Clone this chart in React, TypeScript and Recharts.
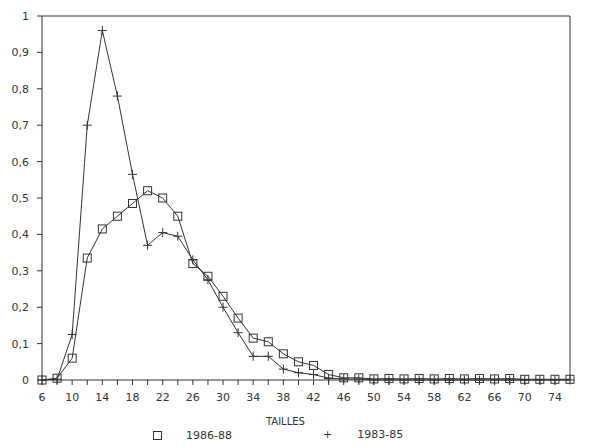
import { LineChart, Line, XAxis, YAxis, ReferenceLine } from 'recharts';

// tailles (x) and the two frequency series
const tailles = [6, 8, 10, 12, 14, 16, 18, 20, 22, 24, 26, 28, 30, 32, 34, 36, 38, 40, 42, 44, 46, 48, 50, 52, 54, 56, 58, 60, 62, 64, 66, 68, 70, 72, 74, 76];
const serie8688 = [0, 0.005, 0.06, 0.335, 0.415, 0.45, 0.485, 0.52, 0.5, 0.45, 0.32, 0.285, 0.23, 0.17, 0.115, 0.105, 0.072, 0.05, 0.04, 0.015, 0.006, 0.006, 0.003, 0.004, 0.003, 0.004, 0.003, 0.004, 0.003, 0.004, 0.003, 0.004, 0.002, 0.002, 0.002, 0.002];
const serie8385 = [0, 0.002, 0.125, 0.7, 0.96, 0.78, 0.565, 0.37, 0.405, 0.395, 0.33, 0.275, 0.2, 0.13, 0.065, 0.065, 0.03, 0.02, 0.015, 0.005, 0.003, 0.003, 0, 0, 0, 0, 0, 0, 0, 0, 0, 0, 0, 0, 0, 0];

const xTicks = [6, 8, 10, 12, 14, 16, 18, 20, 22, 24, 26, 28, 30, 32, 34, 36, 38, 40, 42, 44, 46, 48, 50, 52, 54, 56, 58, 60, 62, 64, 66, 68, 70, 72, 74];
const xLabels = [6, 10, 14, 18, 22, 26, 30, 34, 38, 42, 46, 50, 54, 58, 62, 66, 70, 74];
const yTicks = [0, 0.1, 0.2, 0.3, 0.4, 0.5, 0.6, 0.7, 0.8, 0.9, 1];

const data = tailles.map((t, i) => ({ t, a: serie8688[i], b: serie8385[i] }));

const INK = '#333';
const FONT = '"DejaVu Sans", sans-serif';

const SquareDot = (props: any) => {
    const { cx, cy, index } = props;
    return <rect key={'s' + index} x={cx - 4} y={cy - 4} width={8} height={8} fill="none" stroke={INK} strokeWidth={1} />;
};

const PlusDot = (props: any) => {
    const { cx, cy, index } = props;
    return <path key={'p' + index} d={`M${cx - 4.5},${cy}h9M${cx},${cy - 4.5}v9`} stroke={INK} strokeWidth={1} fill="none" />;
};

const XTick = (props: any) => {
    const { x, y, payload } = props;
    if (!xLabels.includes(payload.value)) return <g />;
    return (
        <text x={x} y={y + 14} textAnchor="middle" fill={INK} fontSize={11} fontFamily={FONT}>
            {payload.value}
        </text>
    );
};

export default function App() {
    return (
        <div style={{ position: 'absolute', left: 0, top: 0, width: 600, height: 448, background: '#fff' }}>
            <LineChart width={600} height={448} data={data} margin={{ top: 16, right: 30, left: 0, bottom: 38 }}>
                <XAxis
                    dataKey="t"
                    type="number"
                    domain={[6, 76]}
                    ticks={xTicks}
                    interval={0}
                    height={30}
                    stroke={INK}
                    tickSize={5}
                    tick={<XTick />}
                />
                <YAxis
                    type="number"
                    domain={[0, 1]}
                    ticks={yTicks}
                    width={42}
                    stroke={INK}
                    tickSize={5}
                    tickMargin={8}
                    tick={{ fill: INK, fontSize: 11, fontFamily: FONT }}
                    tickFormatter={(v: number) => String(v).replace('.', ',')}
                />
                <ReferenceLine y={1} stroke={INK} />
                <ReferenceLine x={76} stroke={INK} />
                <Line type="linear" dataKey="a" stroke={INK} strokeWidth={1} dot={SquareDot} isAnimationActive={false} />
                <Line type="linear" dataKey="b" stroke={INK} strokeWidth={1} dot={PlusDot} isAnimationActive={false} />
            </LineChart>
            <div style={{ position: 'absolute', left: 266, top: 416, fontSize: 10, fontFamily: FONT, color: INK }}>TAILLES</div>
            <div style={{ position: 'absolute', left: 153, top: 429, fontSize: 11, fontFamily: FONT, color: INK, display: 'flex', alignItems: 'center' }}>
                <span style={{ display: 'inline-block', width: 7, height: 7, border: `1px solid ${INK}`, marginRight: 24 }} />
                <span>1986-88</span>
            </div>
            <div style={{ position: 'absolute', left: 323, top: 428, fontSize: 11, fontFamily: FONT, color: INK, display: 'flex', alignItems: 'center' }}>
                <span style={{ marginRight: 25 }}>+</span>
                <span>1983-85</span>
            </div>
        </div>
    );
}
